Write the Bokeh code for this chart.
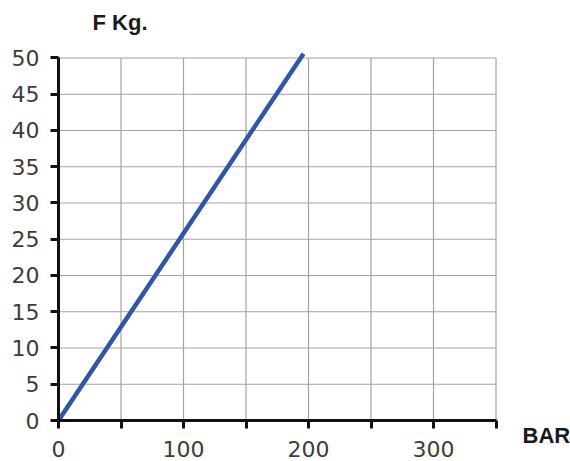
from bokeh.plotting import figure
from bokeh.models import FixedTicker, Range1d, Label, LinearAxis
from bokeh.embed import file_html
from bokeh.resources import INLINE

# data
bar = [0, 196]
force = [0, 50.6]

x_ticks = [0, 50, 100, 150, 200, 250, 300, 350]
x_tick_labels = {0: "0", 50: "", 100: "100", 150: "", 200: "200", 250: "", 300: "300", 350: ""}
y_ticks = [0, 5, 10, 15, 20, 25, 30, 35, 40, 45, 50]
x_max = 350
y_max = 50
x_title = "BAR"
y_title = "F Kg."

p = figure(width=570, height=461, output_backend="svg", toolbar_location=None,
           x_range=Range1d(-46.4, 409.6), y_range=Range1d(-5.655, 57.93),
           min_border=0, x_axis_type=None, y_axis_type=None)
p.outline_line_color = None
p.background_fill_color = "white"
p.border_fill_color = "white"

# grid drawn from tick arrays
vx = x_ticks[1:]
p.segment(x0=vx, y0=[0] * len(vx), x1=vx, y1=[y_max] * len(vx),
          line_color="#a3a3a3", line_width=1.2)
hy = y_ticks[1:]
p.segment(x0=[0] * len(hy), y0=hy, x1=[x_max] * len(hy), y1=hy,
          line_color="#a3a3a3", line_width=1.2)

p.line(bar, force, line_color="#3156a6", line_width=4.5)

xaxis = LinearAxis(fixed_location=0, ticker=FixedTicker(ticks=x_ticks),
                   bounds=(0, x_max), major_label_overrides=x_tick_labels)
yaxis = LinearAxis(fixed_location=0, ticker=FixedTicker(ticks=y_ticks),
                   bounds=(0, y_max))
for ax in (xaxis, yaxis):
    ax.axis_line_color = "#111111"
    ax.axis_line_width = 3
    ax.major_tick_line_color = "#111111"
    ax.major_tick_line_width = 3
    ax.major_tick_out = 8
    ax.major_tick_in = 0
    ax.minor_tick_line_color = None
    ax.major_label_text_font = "DejaVu Sans"
    ax.major_label_text_font_size = "22px"
    ax.major_label_text_color = "#3d3d3d"
xaxis.major_label_standoff = 12
yaxis.major_label_standoff = 11
p.add_layout(xaxis, "below")
p.add_layout(yaxis, "left")

p.add_layout(Label(x=27.2, y=54.83, text=y_title, text_align="left",
                   text_baseline="middle", text_font="Liberation Sans",
                   text_font_size="22px", text_font_style="bold",
                   text_color="#1a1a1a"))
p.add_layout(Label(x=371.2, y=-2.07, text=x_title, text_align="left",
                   text_baseline="middle", text_font="Liberation Sans",
                   text_font_size="22px", text_font_style="bold",
                   text_color="#1a1a1a"))

open("out.html", "w").write(file_html(p, INLINE))
